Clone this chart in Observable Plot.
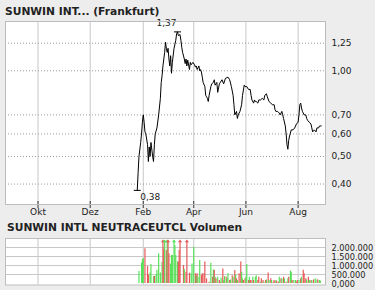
<!DOCTYPE html>
<html><head><meta charset="utf-8">
<script src="https://cdn.jsdelivr.net/npm/d3@7"></script>
<script src="https://cdn.jsdelivr.net/npm/@observablehq/plot@0.6"></script>
<style>
html,body{margin:0;padding:0;background:#ededed;}
#wrap{position:relative;width:375px;height:290px;overflow:hidden;background:#ededed;font-family:"DejaVu Sans",Verdana,sans-serif;}
#price,#vol{position:absolute;left:0;}
#price{top:0;}
#vol{top:234px;}
.title{position:absolute;left:5px;font-weight:bold;font-size:10.7px;line-height:12px;color:#222;white-space:nowrap;z-index:2;}
</style></head><body>
<div id="wrap">
<div id="price"></div>
<div id="vol"></div>
<div class="title" style="top:6.3px">SUNWIN INT... (Frankfurt)</div>
<div class="title" style="top:222.3px;left:7px">SUNWIN INTL NEUTRACEUTCL Volumen</div>
</div>
<script>
// ---- data ----
const priceDates = ["2010-01-25","2010-01-26","2010-01-27","2010-01-29","2010-01-30","2010-01-31","2010-02-01","2010-02-02","2010-02-03","2010-02-04","2010-02-06","2010-02-07","2010-02-08","2010-02-09","2010-02-10","2010-02-12","2010-02-13","2010-02-14","2010-02-15","2010-02-17","2010-02-19","2010-02-21","2010-02-22","2010-02-23","2010-02-24","2010-02-26","2010-02-27","2010-02-28","2010-03-01","2010-03-02","2010-03-03","2010-03-04","2010-03-05","2010-03-06","2010-03-07","2010-03-09","2010-03-11","2010-03-12","2010-03-13","2010-03-14","2010-03-16","2010-03-17","2010-03-18","2010-03-19","2010-03-21","2010-03-22","2010-03-23","2010-03-24","2010-03-25","2010-03-27","2010-03-28","2010-03-29","2010-03-31","2010-04-02","2010-04-03","2010-04-04","2010-04-05","2010-04-07","2010-04-08","2010-04-09","2010-04-10","2010-04-11","2010-04-12","2010-04-14","2010-04-15","2010-04-16","2010-04-17","2010-04-18","2010-04-19","2010-04-21","2010-04-22","2010-04-24","2010-04-25","2010-04-26","2010-04-28","2010-04-29","2010-05-01","2010-05-04","2010-05-06","2010-05-08","2010-05-11","2010-05-13","2010-05-15","2010-05-17","2010-05-18","2010-05-19","2010-05-21","2010-05-22","2010-05-23","2010-05-25","2010-05-27","2010-05-28","2010-05-30","2010-05-31","2010-06-02","2010-06-04","2010-06-06","2010-06-07","2010-06-08","2010-06-10","2010-06-11","2010-06-12","2010-06-13","2010-06-15","2010-06-16","2010-06-18","2010-06-20","2010-06-22","2010-06-23","2010-06-25","2010-06-26","2010-06-28","2010-06-30","2010-07-02","2010-07-04","2010-07-05","2010-07-06","2010-07-08","2010-07-10","2010-07-11","2010-07-13","2010-07-14","2010-07-15","2010-07-17","2010-07-18","2010-07-19","2010-07-20","2010-07-21","2010-07-22","2010-07-24","2010-07-26","2010-07-28","2010-07-30","2010-08-01","2010-08-02","2010-08-03","2010-08-04","2010-08-05","2010-08-06","2010-08-08","2010-08-10","2010-08-11","2010-08-12","2010-08-14","2010-08-16","2010-08-17","2010-08-18","2010-08-20","2010-08-22","2010-08-23","2010-08-25","2010-08-26","2010-08-28"];
const priceValues = [0.38,0.44,0.50,0.56,0.60,0.66,0.70,0.66,0.61,0.60,0.55,0.48,0.54,0.50,0.56,0.50,0.48,0.55,0.60,0.63,0.70,0.80,0.91,0.96,1.04,1.16,1.26,1.20,1.16,1.20,1.10,1.04,1.13,0.98,1.07,1.20,1.28,1.35,1.37,1.33,1.34,1.28,1.21,1.16,1.10,1.06,1.10,1.04,1.09,1.01,1.07,1.05,1.07,1.05,1.03,1.04,1.01,1.04,1.00,1.01,0.99,0.95,0.91,0.88,0.82,0.81,0.80,0.78,0.82,0.88,0.90,0.91,0.93,0.89,0.91,0.84,0.90,0.93,0.90,0.94,0.95,0.93,0.88,0.82,0.76,0.70,0.72,0.68,0.70,0.72,0.76,0.82,0.89,0.88,0.88,0.86,0.86,0.82,0.79,0.77,0.79,0.78,0.78,0.77,0.79,0.79,0.80,0.79,0.82,0.83,0.81,0.78,0.77,0.76,0.76,0.73,0.72,0.72,0.71,0.70,0.72,0.70,0.68,0.64,0.60,0.55,0.53,0.57,0.59,0.62,0.62,0.63,0.65,0.66,0.70,0.76,0.77,0.74,0.72,0.70,0.70,0.68,0.67,0.66,0.65,0.63,0.61,0.62,0.61,0.63,0.63,0.64,0.64];

const volDates = ["2010-01-27","2010-01-30","2010-01-31","2010-02-01","2010-02-03","2010-02-06","2010-02-07","2010-02-09","2010-02-10","2010-02-13","2010-02-14","2010-02-16","2010-02-17","2010-02-19","2010-02-21","2010-02-23","2010-02-24","2010-02-25","2010-02-26","2010-02-28","2010-03-01","2010-03-02","2010-03-03","2010-03-05","2010-03-06","2010-03-07","2010-03-09","2010-03-10","2010-03-11","2010-03-13","2010-03-14","2010-03-15","2010-03-16","2010-03-20","2010-03-21","2010-03-23","2010-03-24","2010-03-27","2010-03-29","2010-03-30","2010-04-01","2010-04-03","2010-04-04","2010-04-05","2010-04-06","2010-04-08","2010-04-10","2010-04-11","2010-04-13","2010-04-14","2010-04-16","2010-04-19","2010-04-20","2010-04-21","2010-04-23","2010-04-24","2010-04-25","2010-04-26","2010-04-27","2010-04-29","2010-05-01","2010-05-02","2010-05-03","2010-05-05","2010-05-06","2010-05-07","2010-05-09","2010-05-10","2010-05-11","2010-05-13","2010-05-14","2010-05-16","2010-05-17","2010-05-19","2010-05-20","2010-05-21","2010-05-22","2010-05-24","2010-05-26","2010-05-27","2010-05-28","2010-05-29","2010-05-31","2010-06-01","2010-06-02","2010-06-04","2010-06-05","2010-06-06","2010-06-07","2010-06-09","2010-06-10","2010-06-12","2010-06-13","2010-06-15","2010-06-16","2010-06-18","2010-06-19","2010-06-21","2010-06-22","2010-06-24","2010-06-25","2010-06-27","2010-06-28","2010-06-30","2010-07-01","2010-07-03","2010-07-04","2010-07-06","2010-07-07","2010-07-09","2010-07-10","2010-07-12","2010-07-13","2010-07-15","2010-07-16","2010-07-18","2010-07-20","2010-07-21","2010-07-23","2010-07-24","2010-07-25","2010-07-27","2010-07-29","2010-07-30","2010-07-31","2010-08-02","2010-08-04","2010-08-05","2010-08-07","2010-08-08","2010-08-10","2010-08-11","2010-08-13","2010-08-14","2010-08-16","2010-08-17","2010-08-19","2010-08-21","2010-08-23","2010-08-24","2010-08-26","2010-08-27"];
const volValues = [670000,1130000,1320000,1390000,1930000,940000,480000,590000,1060000,390000,390000,500000,720000,1650000,590000,1170000,3000000,1900000,3000000,1830000,3000000,3000000,1650000,1090000,1560000,1560000,3000000,2100000,1560000,1200000,1200000,1830000,3000000,1000000,780000,630000,3000000,570000,540000,1090000,2020000,540000,440000,540000,350000,1280000,440000,540000,540000,1190000,260000,70000,70000,1130000,350000,760000,720000,350000,260000,350000,170000,70000,310000,810000,170000,390000,350000,260000,540000,170000,200000,440000,350000,720000,480000,260000,170000,540000,1190000,630000,260000,170000,260000,350000,1060000,170000,350000,170000,170000,350000,170000,350000,440000,170000,350000,70000,260000,170000,70000,170000,200000,580000,170000,260000,170000,70000,170000,170000,130000,70000,350000,260000,260000,350000,260000,70000,260000,350000,690000,630000,170000,170000,170000,70000,170000,170000,260000,350000,740000,540000,260000,200000,350000,170000,170000,170000,200000,260000,200000,200000,170000,130000];
const volUp = [1,1,1,1,0,0,0,1,1,1,0,1,1,1,1,1,0,0,1,0,1,0,0,1,1,1,1,1,1,1,0,0,0,0,1,0,0,0,1,1,1,0,1,0,1,1,0,0,0,0,0,0,1,1,0,1,0,1,0,1,0,0,1,0,1,1,0,1,1,0,1,0,1,0,1,0,1,0,0,1,1,0,0,1,1,0,1,0,0,1,0,1,1,0,0,1,0,0,1,0,1,0,1,0,1,0,0,1,0,0,1,0,1,0,1,0,1,0,1,1,0,1,1,0,0,1,0,1,0,0,0,1,0,1,0,1,0,1,1,0,1,1];

const monthTicks = ["2009-10-01","2009-12-01","2010-02-01","2010-04-01","2010-06-01","2010-08-01"];
const monthLabels = ["Okt","Dez","Feb","Apr","Jun","Aug"];
const priceTicks = [0.40,0.50,0.60,0.70,1.00,1.25];
const priceTickLabels = ["0,40","0,50","0,60","0,70","1,00","1,25"];
const volTicks = [0,500000,1000000,1500000,2000000];
const volTickLabels = ["0,000","500.000","1.000.000","1.500.000","2.000.000"];
const xDomain = ["2009-08-24","2010-09-02"];

// ---- build ----
const parse = s => new Date(s + "T00:00:00Z");
const prices = priceDates.map((d,i) => ({date: parse(d), price: priceValues[i]}));
const vols = volDates.map((d,i) => ({date: parse(d), vol: volValues[i], up: volUp[i] === 1}));
const mTicks = monthTicks.map(parse);
const mLabel = d => monthLabels[mTicks.findIndex(t => +t === +d)];
const domainX = xDomain.map(parse);
const fmtComma = v => v.toFixed(2).replace(".", ",");

const hi = d3.greatest(prices, d => d.price);
const lo = d3.least(prices, d => d.price);

const hbar = {draw(ctx, size){ const w = Math.sqrt(size/Math.PI)*1.75; ctx.moveTo(-w,0); ctx.lineTo(w,0);} };
const arrow = {draw(ctx, size){ const s = Math.sqrt(size/Math.PI); ctx.moveTo(0,-s); ctx.lineTo(s*1.3,s*0.6); ctx.lineTo(-s*1.3,s*0.6); ctx.closePath();} };

const GRID = "#c8c8c8", FRAME = "#bdbdbd", TXT = "#222";
const GREEN = "#58e058", RED = "#e85858";

const price = Plot.plot({
  width: 375, height: 220,
  marginTop: 21, marginBottom: 16, marginLeft: 5, marginRight: 50,
  style: {fontFamily: "DejaVu Sans, Verdana, sans-serif", fontSize: "9px", color: TXT, background: "transparent"},
  x: {type: "utc", domain: domainX, label: null},
  y: {type: "log", domain: [0.339, 1.49], label: null},
  marks: [
    Plot.frame({fill: "white", stroke: "none"}),
    Plot.gridX(mTicks, {stroke: GRID, strokeOpacity: 1}),
    Plot.gridY(priceTicks, {stroke: "#9a9a9a", strokeOpacity: 1, strokeDasharray: "1,2"}),
    Plot.line(prices, {x: "date", y: "price", stroke: "black", strokeWidth: 1}),
    Plot.dot([hi, lo], {x: "date", y: "price", symbol: hbar, r: 2, stroke: "black", strokeWidth: 1}),
    Plot.text([hi], {x: "date", y: "price", text: d => fmtComma(d.price), textAnchor: "end", dx: -1, dy: -9, fill: TXT}),
    Plot.text([lo], {x: "date", y: "price", text: d => fmtComma(d.price), textAnchor: "start", dx: 3, dy: 7, fill: TXT}),
    Plot.frame({stroke: FRAME}),
    Plot.axisY(priceTicks, {anchor: "right", tickSize: 0, tickPadding: 6, label: null, tickFormat: v => priceTickLabels[priceTicks.indexOf(v)], fill: TXT}),
    Plot.axisX(mTicks, {anchor: "bottom", tickSize: 7, dy: -3, label: null, tickFormat: () => "", stroke: "#333", strokeDasharray: "3,1"}),
    Plot.axisX(mTicks, {anchor: "bottom", tickSize: 0, tickPadding: 4, label: null, tickFormat: mLabel, fill: TXT})
  ]
});
document.getElementById("price").appendChild(price);

const CAP = 2350000;
const vol = Plot.plot({
  width: 375, height: 56,
  marginTop: 4, marginBottom: 5.5, marginLeft: 5, marginRight: 50,
  style: {fontFamily: "DejaVu Sans, Verdana, sans-serif", fontSize: "8.2px", color: TXT, background: "transparent"},
  x: {type: "utc", domain: domainX, axis: null, label: null},
  y: {domain: [-80000, 2500000], label: null},
  marks: [
    Plot.frame({fill: "white", stroke: "none"}),
    Plot.gridX(mTicks, {stroke: GRID, strokeOpacity: 1}),
    Plot.gridY(volTicks.filter(v => v > 0), {stroke: GRID, strokeOpacity: 1}),
    Plot.ruleX(vols, {x: "date", y1: 0, y2: d => Math.min(d.vol, CAP), stroke: d => d.up ? GREEN : RED, strokeWidth: 1.2}),
    Plot.dot(vols.filter(d => d.vol > CAP), {x: "date", y: () => CAP, symbol: arrow, r: 1.6, fill: d => d.up ? GREEN : RED, stroke: "none"}),
    Plot.frame({stroke: FRAME}),
    Plot.axisY(volTicks, {anchor: "right", tickSize: 0, tickPadding: 6, dy: 1, label: null, fontSize: 8.2, tickFormat: v => volTickLabels[volTicks.indexOf(v)], fill: TXT})
  ]
});
document.getElementById("vol").appendChild(vol);
</script>
</body></html>
